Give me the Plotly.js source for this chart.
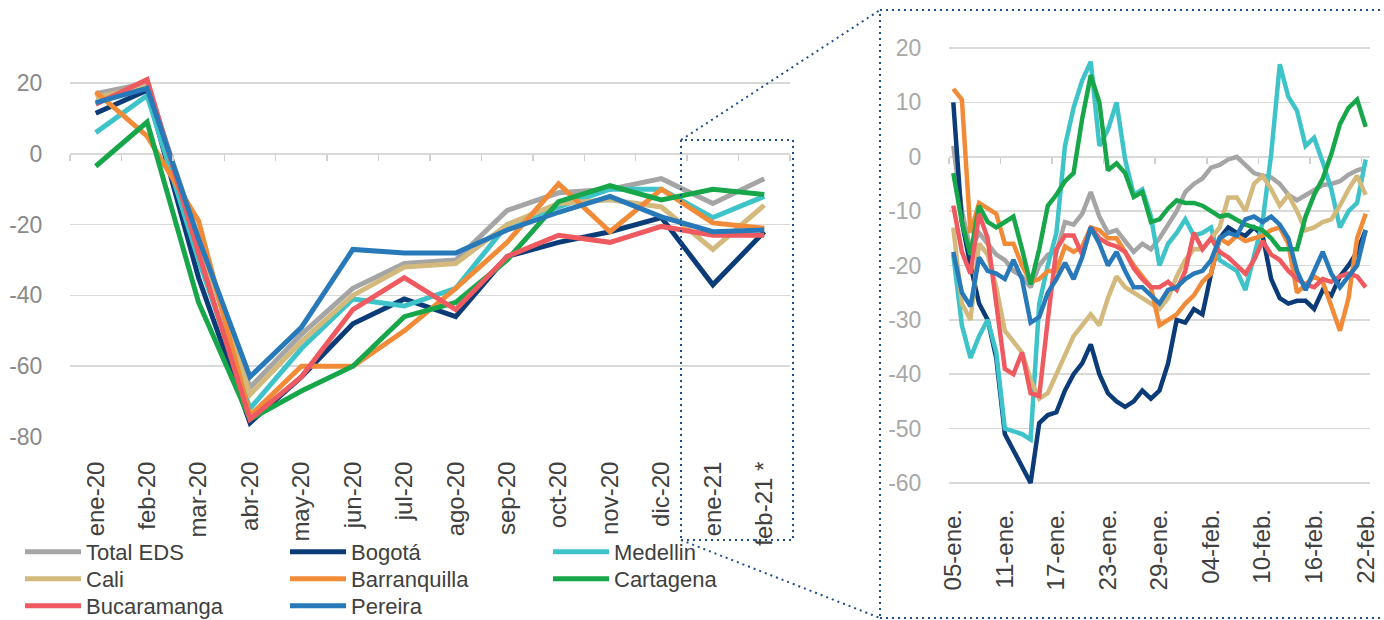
<!DOCTYPE html>
<html>
<head>
<meta charset="utf-8">
<script src="https://cdn.plot.ly/plotly-3.0.1.min.js"></script>
<style>
  html, body { margin: 0; padding: 0; background: #fff; }
  #chart { width: 1384px; height: 620px; }
</style>
</head>
<body>
<div id="chart"></div>
<script>
// ---- data: monthly panel (left) ----
const months = ['ene-20', 'feb-20', 'mar-20', 'abr-20', 'may-20', 'jun-20', 'jul-20',
  'ago-20', 'sep-20', 'oct-20', 'nov-20', 'dic-20', 'ene-21', 'feb-21 *'];
const leftYTicks = [20, 0, -20, -40, -60, -80];

const monthlyTotal        = [17, 20, -25, -66, -51, -38, -31, -30, -16, -11, -10, -7, -14, -7];
const monthlyBogota       = [11.5, 18, -35, -76, -63, -48, -41, -46, -29, -25, -22, -18, -37, -22];
const monthlyMedellin     = [6, 16.5, -30, -72, -55, -41, -43, -38, -20, -15, -10, -10, -18, -12];
const monthlyCali         = [16, 19, -24, -68, -53, -40, -32, -31, -20, -14, -13, -15, -27, -14.5];
const monthlyBarranquilla = [17.5, 5, -19, -74, -60, -60, -50, -38, -25, -8.5, -22, -10, -19.5, -21];
const monthlyCartagena    = [-3.5, 9, -42, -75, -67, -60, -46, -42, -30, -13.5, -9, -13, -10, -11.5];
const monthlyBucaramanga  = [14, 21, -28, -75, -63, -44, -35, -44, -29, -23, -25, -20.5, -23, -23];
const monthlyPereira      = [14.5, 18.5, -24, -63, -49, -27, -28, -28, -21.5, -16.5, -12, -17.8, -22, -21.5];

// ---- data: daily panel (right), 05-ene to 22-feb ----
const dayTickLabels = ['05-ene.', '11-ene.', '17-ene.', '23-ene.', '29-ene.',
  '04-feb.', '10-feb.', '16-feb.', '22-feb.'];
const rightYTicks = [20, 10, 0, -10, -20, -30, -40, -50, -60];

const dailyTotal = [2, -10, -17, -14, -16, -18, -19, -21, -22, -24,
  -20, -18, -17.5, -12, -12.5, -10.5, -6.5, -11, -14, -13.5,
  -15.5, -17.5, -16, -17, -15, -12.5, -10, -6.5, -5, -4,
  -2, -1.5, -0.5, 0, -1.5, -3, -3.5, -3.8, -5, -7,
  -8, -7, -6, -5.2, -5, -4.5, -3.3, -2.5, -2];
const dailyBogota = [10, -12, -20, -27, -30, -37, -51, -54, -57, -60,
  -49, -47.5, -47, -43, -40, -38, -34.5, -40, -43.5, -45,
  -46, -45, -43, -44.5, -43, -38, -30, -30.5, -28, -29,
  -21.5, -15, -13, -14, -14.5, -13, -14.5, -22.5, -26, -27,
  -26.5, -26.5, -28, -24.5, -25.5, -22, -20, -17.5, -13.5];
const dailyMedellin = [-18, -31, -37, -33, -30, -36, -50, -50.5, -51, -52,
  -27, -20, -14, 2, 9, 14, 17.5, 2, 5, 10,
  -0.5, -7, -6, -11, -20, -16, -14, -11.5, -14.5, -14,
  -13, -19, -20, -21, -24.5, -18, -12, 0.5, 17, 11,
  8.5, 2, 3.5, -1, -6, -13, -10, -8.5, -0.5];
const dailyCali = [-13, -27, -30, -16, -18, -24, -32, -34, -36, -41,
  -44.5, -43.5, -40, -36, -33, -31, -29, -31, -26, -22,
  -24, -25, -26, -27, -28, -26, -22, -19, -17, -17,
  -15, -13, -7.5, -7.5, -10, -5, -3.5, -6, -9, -7,
  -10, -13.5, -13, -12, -11.5, -9, -6, -3.5, -7];
const dailyBarranquilla = [12.5, 10.5, -14, -8.5, -9.5, -10.5, -16, -16, -20, -23,
  -22.5, -21, -21, -16.5, -17.5, -16.5, -13, -13.5, -15, -15,
  -17.5, -20, -22, -24, -31, -30, -29, -27, -25.5, -23,
  -21.5, -15, -16, -14.5, -15.5, -15, -14.5, -13.5, -13, -16,
  -25, -23.5, -22, -23, -27.5, -32, -26, -15, -10.5];
const dailyCartagena = [-3, -12, -18, -9, -12, -13, -12, -11, -17, -23.5,
  -17, -9, -7, -4.5, -3, 7, 15, 10, -2.5, -1.2,
  -3, -7.4, -6.5, -12, -11.5, -9.5, -8, -8.5, -8.5, -9,
  -10, -11, -10.7, -11.5, -12.5, -13, -13.5, -15, -17, -17,
  -17, -11, -7, -4, 0.5, 6, 9, 10.5, 5.5];
const dailyBucaramanga = [-9, -17.5, -21.5, -10.5, -15, -27, -39, -40, -36, -43.5,
  -44, -30, -17, -14.5, -14.5, -18, -13, -15, -16, -16.5,
  -17.5, -20.5, -22.5, -24, -24, -23, -24.5, -21, -14, -17,
  -15, -17.5, -18.5, -20, -21.5, -19, -15.5, -18, -19, -21,
  -22.5, -23.5, -24, -22.5, -23, -22, -21.5, -22, -24];
const dailyPereira = [-17.5, -25, -27.5, -18.5, -21, -21.5, -22.5, -19, -22.5, -30.5,
  -29.5, -25, -22.5, -19.5, -22.5, -18.5, -13, -16, -20, -17.5,
  -21, -24, -24, -25.5, -27, -24.5, -24, -22.5, -21.5, -21,
  -19, -15, -14, -14.5, -11.5, -11, -12, -11, -12.5, -15,
  -21, -24.5, -21, -17.5, -21.5, -24, -22, -20, -13.5];

const seriesNames = ['Total EDS', 'Bogotá', 'Medellin', 'Cali', 'Barranquilla',
  'Cartagena', 'Bucaramanga', 'Pereira'];
const monthlySeries = [monthlyTotal, monthlyBogota, monthlyMedellin, monthlyCali,
  monthlyBarranquilla, monthlyCartagena, monthlyBucaramanga, monthlyPereira];
const dailySeries = [dailyTotal, dailyBogota, dailyMedellin, dailyCali,
  dailyBarranquilla, dailyCartagena, dailyBucaramanga, dailyPereira];
const colors = ['#a5a5a5', '#0b3c78', '#3ec3c9', '#d3b97c', '#f28b38',
  '#17a74a', '#ee5a5f', '#2779b9'];

// ---- geometry helpers (pixel -> paper) ----
const W = 1384, H = 620;
const px = x => x / W;
const py = y => 1 - y / H;

const leftRange = [-80, 22];
const rightRange = [-61, 20.5];
const leftYDomain = [py(437), py(76)];
const rightYDomain = [py(488.4), py(45.3)];
const zeroPos = (dom, r) => dom[0] + (0 - r[0]) / (r[1] - r[0]) * (dom[1] - dom[0]);

const dayIdx = dailyTotal.map((_, i) => i);
const dayTickVals = dayTickLabels.map((_, i) => i * 6);

const FONT = 'Liberation Sans, Arial, sans-serif';
const legendKeys = seriesNames.map((_, i) => i === 0 ? 'legend' : 'legend' + (i + 1));
const legendColX = [20, 285, 548];
const legendRowY = [552, 579, 606];

const traces = [];
seriesNames.forEach((name, i) => {
  traces.push({
    x: months, y: monthlySeries[i], name: name,
    type: 'scatter', mode: 'lines', xaxis: 'x', yaxis: 'y',
    line: { color: colors[i], width: 5 },
    legend: legendKeys[i], hoverinfo: 'skip'
  });
});
seriesNames.forEach((name, i) => {
  traces.push({
    x: dayIdx, y: dailySeries[i], name: name,
    type: 'scatter', mode: 'lines', xaxis: 'x2', yaxis: 'y2',
    line: { color: colors[i], width: 4.5 },
    showlegend: false, hoverinfo: 'skip'
  });
});
// carriers for the tick marks sitting on the zero line
traces.push({ x: [0], y: [null], xaxis: 'x3', yaxis: 'y', mode: 'lines', showlegend: false, hoverinfo: 'skip' });
traces.push({ x: [0], y: [null], xaxis: 'x4', yaxis: 'y2', mode: 'lines', showlegend: false, hoverinfo: 'skip' });

const dotted = { color: '#1f4e8c', width: 2, dash: '2px,4px' };

const layout = {
  width: W, height: H,
  margin: { l: 0, r: 0, t: 0, b: 0, autoexpand: false },
  paper_bgcolor: '#ffffff', plot_bgcolor: '#ffffff',
  font: { family: FONT, color: '#404040' },
  xaxis: {
    domain: [px(70), px(790)], type: 'category', range: [-0.5, 13.5],
    tickangle: -90, ticks: 'outside', ticklen: 14, tickcolor: 'rgba(0,0,0,0)',
    tickfont: { family: FONT, size: 24, color: '#404040' },
    showgrid: false, zeroline: false, showline: false, fixedrange: true
  },
  yaxis: {
    domain: leftYDomain, range: leftRange,
    tickmode: 'array', tickvals: leftYTicks, ticktext: leftYTicks.map(String),
    ticks: 'outside', ticklen: 22, tickcolor: 'rgba(0,0,0,0)',
    tickfont: { family: FONT, size: 23, color: '#8a8a8a' },
    gridcolor: '#d9d9d9', gridwidth: 1.5, zeroline: false, showline: false, fixedrange: true
  },
  xaxis3: {
    overlaying: 'x', anchor: 'free', position: zeroPos(leftYDomain, leftRange),
    range: [-0.5, 13.5], tickmode: 'array',
    tickvals: months.map((_, i) => i - 0.5).concat([months.length - 0.5]),
    ticks: 'outside', ticklen: 6, tickwidth: 1.5, tickcolor: '#d0d0d0',
    showticklabels: false, showgrid: false, zeroline: false, showline: false
  },
  xaxis2: {
    domain: [px(949), px(1370)], anchor: 'y2', range: [-0.5, 48.5],
    tickmode: 'array', tickvals: dayTickVals, ticktext: dayTickLabels,
    tickangle: -90, ticks: 'outside', ticklen: 10, tickcolor: 'rgba(0,0,0,0)',
    tickfont: { family: FONT, size: 24, color: '#404040' },
    showgrid: false, zeroline: false, showline: false, fixedrange: true
  },
  yaxis2: {
    domain: rightYDomain, anchor: 'x2', range: rightRange,
    tickmode: 'array', tickvals: rightYTicks, ticktext: rightYTicks.map(String),
    ticks: 'outside', ticklen: 22, tickcolor: 'rgba(0,0,0,0)',
    tickfont: { family: FONT, size: 23, color: '#a8a8a8' },
    gridcolor: '#d9d9d9', gridwidth: 1.5, zeroline: false, showline: false, fixedrange: true
  },
  xaxis4: {
    overlaying: 'x2', anchor: 'free', position: zeroPos(rightYDomain, rightRange),
    range: [-0.5, 48.5], tickmode: 'array',
    tickvals: dayTickVals.map(v => v - 0.5),
    ticks: 'outside', ticklen: 6, tickwidth: 1.5, tickcolor: '#d0d0d0',
    showticklabels: false, showgrid: false, zeroline: false, showline: false
  },
  shapes: [
    { type: 'rect', xref: 'paper', yref: 'paper', x0: px(681), x1: px(793), y0: py(540), y1: py(140), line: dotted },
    { type: 'rect', xref: 'paper', yref: 'paper', x0: px(880), x1: px(1390), y0: py(618), y1: py(10), line: dotted },
    { type: 'line', xref: 'paper', yref: 'paper', x0: px(681), y0: py(140), x1: px(880), y1: py(10), line: dotted },
    { type: 'line', xref: 'paper', yref: 'paper', x0: px(681), y0: py(540), x1: px(880), y1: py(618), line: dotted }
  ]
};

// one small legend per entry so the 3-column grid sits where the original has it
legendKeys.forEach((key, i) => {
  layout[key] = {
    x: px(legendColX[i % 3]), y: py(legendRowY[Math.floor(i / 3)]),
    xanchor: 'left', yanchor: 'middle',
    bgcolor: 'rgba(0,0,0,0)', borderwidth: 0, itemwidth: 56,
    font: { family: FONT, size: 22, color: '#404040' }
  };
});

Plotly.newPlot('chart', traces, layout, { staticPlot: true, displayModeBar: false });
</script>
</body>
</html>
